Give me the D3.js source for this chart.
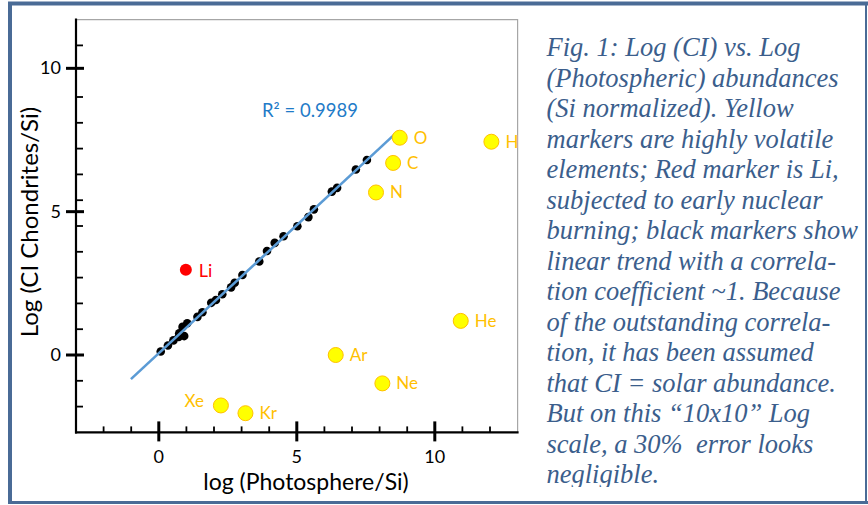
<!DOCTYPE html>
<html>
<head>
	<title>Log CI vs Log Photosphere</title>
	<script src="https://d3js.org/d3.v7.min.js" charset="utf-8"></script>
	<style type="text/css">
		body {
			margin: 0;
			background: #fff;
		}
		svg text {
			font-family: 'Lato', 'DejaVu Sans', sans-serif;
		}
		.caption text {
			font-family: 'Liberation Serif', 'DejaVu Serif', serif;
			font-style: italic;
			fill: #3b5e8c;
			white-space: pre;
		}
	</style>
</head>
<body>
	<script type="text/javascript">

		// black markers (elements on the trend)
		var trendX = [0.07, 0.33, 0.53, 0.72, 0.74, 0.86, 0.92, 1.03, 1.40, 1.58, 1.90, 2.07, 2.30, 2.62, 2.75, 3.03,
		              3.64, 3.92, 4.20, 4.52, 5.02, 5.42, 5.62, 6.27, 6.46, 7.14, 7.54];
		var trendY = [0.12, 0.33, 0.51, 0.63, 0.76, 0.98, 0.66, 1.11, 1.33, 1.49, 1.82, 1.92, 2.12, 2.36, 2.52, 2.79,
		              3.26, 3.63, 3.91, 4.14, 4.49, 4.81, 5.08, 5.70, 5.83, 6.47, 6.80];

		// yellow markers (volatile elements)
		var volNames = ["O", "C", "N", "H", "He", "Ar", "Ne", "Xe", "Kr"];
		var volX     = [8.73, 8.49, 7.87, 12.05, 10.94, 6.41, 8.10, 2.25, 3.14];
		var volY     = [7.58, 6.70, 5.67, 7.44, 1.19, 0.00, -0.99, -1.76, -2.03];

		// red marker
		var liX = [0.98];
		var liY = [2.97];

		// linear trend line
		var fitSlope = 0.894;
		var fitIntercept = 0.06;
		var fitRange = [-1.01, 8.6];
		var fitLabel = "R² = 0.9989";

		var xTicks = [0, 5, 10];
		var xMinorTicks = [-2, -1, 1, 2, 3, 4, 6, 7, 8, 9, 11, 12];
		var yTicks = [0, 5, 10];
		var yMinorTicks = [-1.8, -0.9, 0.9, 1.8, 2.7, 3.6, 4.5, 5.4, 6.3, 7.2, 8.1, 9.0, 10.8];

		var xTitle = "log (Photosphere/Si)";
		var yTitle = "Log (CI Chondrites/Si)";

		var caption = [
			"Fig. 1: Log (CI) vs. Log",
			"(Photospheric) abundances",
			"(Si normalized). Yellow",
			"markers are highly volatile",
			"elements; Red marker is Li,",
			"subjected to early nuclear",
			"burning; black markers show",
			"linear trend with a correla-",
			"tion coefficient ~1. Because",
			"of the outstanding correla-",
			"tion, it has been assumed",
			"that CI = solar abundance.",
			"But on this \u201c10x10\u201d Log",
			"scale, a 30%  error looks",
			"negligible."
		];

		var W = 868, H = 505;

		var svg = d3.select('body')
			.append('svg')
			.attr('width', W)
			.attr('height', H);

		var x = d3.scaleLinear().domain([-3, 13]).range([76, 517.6]);
		var y = d3.scaleLinear().domain([-2.7, 11.7]).range([432.4, 19.6]);

		// plot frame (light grey top / right)
		svg.append('path')
			.attr('d', 'M' + x(-3) + ',' + y(11.7) + 'H' + x(13) + 'V' + y(-2.7))
			.attr('fill', 'none')
			.attr('stroke', '#a6a6a6')
			.attr('stroke-width', 1.2);

		// axes
		var gx = svg.append('g');
		gx.append('line')
			.attr('x1', x(-3) - 1).attr('x2', x(13) + 1)
			.attr('y1', y(-2.7)).attr('y2', y(-2.7))
			.attr('stroke', '#000').attr('stroke-width', 2.2);
		gx.selectAll('.minor')
			.data(xMinorTicks)
			.enter().append('line')
			.attr('x1', d => x(d)).attr('x2', d => x(d))
			.attr('y1', y(-2.7)).attr('y2', y(-2.7) - 6)
			.attr('stroke', '#000').attr('stroke-width', 1.8);
		gx.selectAll('.major')
			.data(xTicks)
			.enter().append('line')
			.attr('x1', d => x(d)).attr('x2', d => x(d))
			.attr('y1', y(-2.7) - 11).attr('y2', y(-2.7) + 9)
			.attr('stroke', '#000').attr('stroke-width', 3);
		gx.selectAll('text')
			.data(xTicks)
			.enter().append('text')
			.attr('x', d => x(d))
			.attr('y', 463)
			.attr('text-anchor', 'middle')
			.attr('font-size', 18)
			.text(d => d);

		var gy = svg.append('g');
		gy.append('line')
			.attr('x1', x(-3)).attr('x2', x(-3))
			.attr('y1', y(11.7) - 1).attr('y2', y(-2.7) + 1)
			.attr('stroke', '#000').attr('stroke-width', 2.2);
		gy.selectAll('.minor')
			.data(yMinorTicks)
			.enter().append('line')
			.attr('x1', x(-3)).attr('x2', x(-3) + 7)
			.attr('y1', d => y(d)).attr('y2', d => y(d))
			.attr('stroke', '#000').attr('stroke-width', 1.8);
		gy.selectAll('.major')
			.data(yTicks)
			.enter().append('line')
			.attr('x1', x(-3) - 10).attr('x2', x(-3) + 8)
			.attr('y1', d => y(d)).attr('y2', d => y(d))
			.attr('stroke', '#000').attr('stroke-width', 3);
		gy.selectAll('text')
			.data(yTicks)
			.enter().append('text')
			.attr('x', 61)
			.attr('y', d => y(d) + 6)
			.attr('text-anchor', 'end')
			.attr('font-size', 18)
			.text(d => d);

		// axis titles
		svg.append('text')
			.attr('x', 306)
			.attr('y', 490)
			.attr('text-anchor', 'middle')
			.attr('font-size', 23)
			.text(xTitle);

		svg.append('text')
			.attr('transform', 'translate(38,222) rotate(-90)')
			.attr('text-anchor', 'middle')
			.attr('font-size', 24)
			.text(yTitle);

		// black markers
		svg.append('g')
			.selectAll('circle')
			.data(d3.zip(trendX, trendY))
			.enter().append('circle')
			.attr('cx', d => x(d[0]))
			.attr('cy', d => y(d[1]))
			.attr('r', 4.3)
			.attr('fill', '#000');

		// trend line
		svg.append('line')
			.attr('x1', x(fitRange[0])).attr('y1', y(fitSlope * fitRange[0] + fitIntercept))
			.attr('x2', x(fitRange[1])).attr('y2', y(fitSlope * fitRange[1] + fitIntercept))
			.attr('stroke', '#5b9bd5')
			.attr('stroke-width', 2.6);

		svg.append('text')
			.attr('x', 310)
			.attr('y', 117)
			.attr('text-anchor', 'middle')
			.attr('font-size', 18.5)
			.attr('fill', '#1f7bc8')
			.text(fitLabel);

		// yellow markers
		var vol = svg.append('g')
			.selectAll('g')
			.data(volNames.map((n, i) => ({name: n, x: volX[i], y: volY[i]})))
			.enter().append('g');
		vol.append('circle')
			.attr('cx', d => x(d.x))
			.attr('cy', d => y(d.y))
			.attr('r', 7.5)
			.attr('fill', '#ffff00')
			.attr('stroke', '#ffc000')
			.attr('stroke-width', 1);
		vol.append('text')
			.attr('x', d => d.name == 'Xe' ? x(d.x) - 17 : x(d.x) + 14)
			.attr('y', d => d.name == 'Xe' ? y(d.y) + 2 : y(d.y) + 6)
			.attr('text-anchor', d => d.name == 'Xe' ? 'end' : 'start')
			.attr('font-size', 17)
			.attr('fill', '#ffc000')
			.text(d => d.name);

		// Li
		svg.append('circle')
			.attr('cx', x(liX[0]))
			.attr('cy', y(liY[0]))
			.attr('r', 6)
			.attr('fill', '#ff0000');
		svg.append('text')
			.attr('x', x(liX[0]) + 13)
			.attr('y', y(liY[0]) + 7)
			.attr('font-size', 18)
			.attr('fill', '#ff0000')
			.text('Li');

		// caption on the right
		svg.append('clipPath')
			.attr('id', 'capclip')
			.append('rect')
			.attr('x', 520).attr('y', 20).attr('width', 346).attr('height', 467);

		svg.append('g')
			.attr('class', 'caption')
			.attr('clip-path', 'url(#capclip)')
			.selectAll('text')
			.data(caption)
			.enter().append('text')
			.attr('x', 546.5)
			.attr('y', (d, i) => 56 + i * 30.5)
			.attr('font-size', 26.5)
			.text(d => d);

		// outer frame
		var frame = '#4a6b96';
		svg.append('line').attr('x1', 8).attr('x2', 868).attr('y1', 3.5).attr('y2', 3.5)
			.attr('stroke', frame).attr('stroke-width', 4);
		svg.append('line').attr('x1', 10).attr('x2', 10).attr('y1', 2).attr('y2', 504)
			.attr('stroke', frame).attr('stroke-width', 4);
		svg.append('line').attr('x1', 8).attr('x2', 868).attr('y1', 502.5).attr('y2', 502.5)
			.attr('stroke', frame).attr('stroke-width', 3);
		svg.append('line').attr('x1', 866).attr('x2', 866).attr('y1', 2).attr('y2', 504)
			.attr('stroke', frame).attr('stroke-width', 2);

	</script>
</body>
</html>
